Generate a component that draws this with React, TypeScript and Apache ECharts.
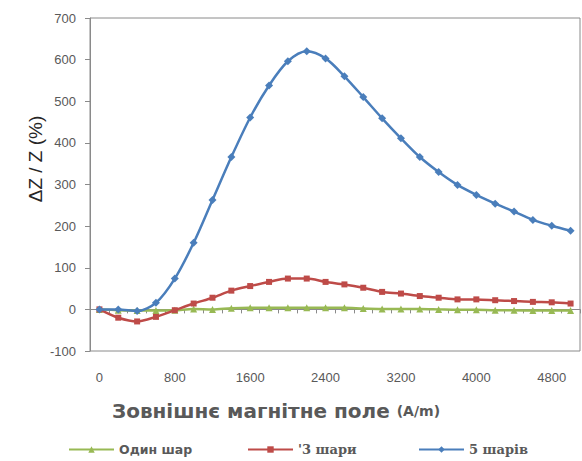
import React, { useEffect, useRef } from "react";
import * as echarts from "echarts";

const categories = ["0","200","400","600","800","1000","1200","1400","1600","1800","2000","2200","2400","2600","2800","3000","3200","3400","3600","3800","4000","4200","4400","4600","4800","5000"];
const oneLayer = [0,-2,-3,-3,-2,1,0,3,4,4,4,4,4,4,2,1,1,1,0,-1,-1,-2,-2,-3,-3,-3];
const threeLayers = [0,-20,-29,-18,-2,14,28,45,56,66,74,74,66,60,52,42,38,32,28,24,24,22,20,18,17,14];
const fiveLayers = [0,0,-4,16,74,160,263,366,461,538,596,620,603,560,510,459,411,366,330,299,275,254,235,215,201,189];
const seriesNames = ["Один шар", "'3 шари", "5 шарів"];
const yTicks = { min: -100, max: 700, interval: 100 };

export default function App() {
  const ref = useRef<HTMLDivElement>(null);
  useEffect(() => {
    if (!ref.current) return;
    const chart = echarts.init(ref.current, null, { renderer: "svg" });
    const sansLegend = { fontFamily: "DejaVu Sans", fontWeight: "bold", fontSize: 12.5, color: "#595959" };
    const serifLegend = { fontFamily: "DejaVu Serif", fontWeight: "bold", fontSize: 13, color: "#595959" };
    const legendBase = { top: 443, padding: 0, itemWidth: 45, itemHeight: 8 };
    chart.setOption({
      animation: false,
      backgroundColor: "#ffffff",
      grid: { left: 90, top: 18, right: 2, bottom: 110, show: true, borderColor: "#8a8a8a", borderWidth: 1 },
      xAxis: [
        {
          type: "category",
          data: categories,
          boundaryGap: true,
          position: "bottom",
          axisLine: { show: false, onZero: false },
          axisTick: { show: false },
          axisLabel: { interval: 3, margin: 20, color: "#595959", fontSize: 13, fontFamily: "Liberation Sans" },
        },
        {
          type: "category",
          data: categories,
          boundaryGap: true,
          position: "bottom",
          axisLine: { show: true, onZero: true, lineStyle: { color: "#8a8a8a", width: 1 } },
          axisTick: { show: true, interval: 0, length: 4, lineStyle: { color: "#8a8a8a" } },
          axisLabel: { show: false },
        },
      ],
      yAxis: {
        type: "value",
        min: yTicks.min,
        max: yTicks.max,
        interval: yTicks.interval,
        axisLine: { show: true, lineStyle: { color: "#8a8a8a" } },
        axisTick: { show: true, length: 5, lineStyle: { color: "#8a8a8a" } },
        splitLine: { show: false },
        axisLabel: { margin: 14, color: "#595959", fontSize: 13, fontFamily: "Liberation Sans" },
      },
      legend: [
        { ...legendBase, data: [seriesNames[0]], left: 68, textStyle: sansLegend },
        { ...legendBase, data: [seriesNames[1]], left: 247, textStyle: serifLegend },
        { ...legendBase, data: [seriesNames[2]], left: 418, textStyle: serifLegend },
      ],
      graphic: [
        {
          type: "text",
          x: 35,
          y: 159,
          rotation: Math.PI / 2,
          style: { text: "ΔZ / Z (%)", fontSize: 19, fontFamily: "Liberation Sans", fill: "#262626", align: "center", verticalAlign: "middle" },
        },
        {
          type: "text",
          x: 276,
          y: 411,
          style: {
            text: "{a|Зовнішнє магнітне поле }{b|(A/m)}",
            align: "center",
            verticalAlign: "middle",
            rich: {
              a: { fontSize: 20, fontWeight: "bold", fontFamily: "DejaVu Sans", fill: "#595959", color: "#595959" },
              b: { fontSize: 14, fontWeight: "bold", fontFamily: "DejaVu Sans", fill: "#595959", color: "#595959" },
            },
          },
        },
      ],
      series: [
        {
          name: seriesNames[0],
          type: "line",
          data: oneLayer,
          symbol: "triangle",
          symbolSize: 7,
          color: "#98B954",
          lineStyle: { width: 2.5, color: "#98B954" },
          itemStyle: { color: "#98B954" },
          smooth: 0.3,
        },
        {
          name: seriesNames[1],
          type: "line",
          data: threeLayers,
          symbol: "rect",
          symbolSize: 6,
          color: "#BE4B48",
          lineStyle: { width: 2.5, color: "#BE4B48" },
          itemStyle: { color: "#BE4B48" },
          smooth: 0.3,
        },
        {
          name: seriesNames[2],
          type: "line",
          data: fiveLayers,
          symbol: "diamond",
          symbolSize: 8,
          color: "#4A7EBB",
          lineStyle: { width: 2.5, color: "#4A7EBB" },
          itemStyle: { color: "#4A7EBB" },
          smooth: 0.3,
        },
      ],
    });
    return () => chart.dispose();
  }, []);
  return <div ref={ref} style={{ position: "absolute", left: 0, top: 0, width: 582, height: 461 }} />;
}
